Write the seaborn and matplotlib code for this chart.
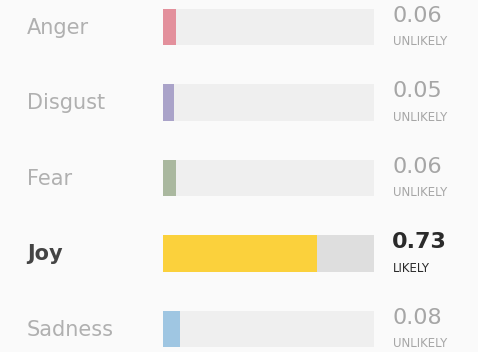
import matplotlib
matplotlib.use("Agg")
import matplotlib.pyplot as plt
from matplotlib.transforms import blended_transform_factory
import seaborn as sns
import pandas as pd

emotions = ["Anger", "Disgust", "Fear", "Joy", "Sadness"]
scores = [0.06, 0.05, 0.06, 0.73, 0.08]
likelihood = ["UNLIKELY", "UNLIKELY", "UNLIKELY", "LIKELY", "UNLIKELY"]
highlight = "Joy"

bar_colors = ["#e3909c", "#aaa3c9", "#aab89f", "#fbd13c", "#9fc6e2"]

sns.set_theme(style="white")
plt.rcParams["font.family"] = ["DejaVu Sans"]

df = pd.DataFrame({"emotion": emotions, "score": scores, "track": [1.0] * len(emotions)})

W, H = 478, 352
fig = plt.figure(figsize=(W / 100, H / 100), dpi=100)
fig.patch.set_facecolor("#fafafa")

left_px, right_px = 163, 374
ax = fig.add_axes([left_px / W, 0, (right_px - left_px) / W, 1])
ax.set_facecolor("none")

# background tracks
track_colors = ["#dedede" if e == highlight else "#efefef" for e in emotions]
sns.barplot(data=df, y="emotion", x="track", hue="emotion", palette=track_colors,
            order=emotions, hue_order=emotions, width=0.48, legend=False, ax=ax,
            saturation=1, linewidth=0)
# score bars
sns.barplot(data=df, y="emotion", x="score", hue="emotion", palette=bar_colors,
            order=emotions, hue_order=emotions, width=0.48, legend=False, ax=ax,
            saturation=1, linewidth=0)

row_px, first_px = 75.5, 27
ax.set_ylim((H - first_px) / row_px, -first_px / row_px)
ax.set_xlim(0, 1)
ax.axis("off")

lab_tr = blended_transform_factory(fig.transFigure, ax.transData)
for i, (e, s, lk) in enumerate(zip(emotions, scores, likelihood)):
    hi = e == highlight
    c_lab = "#444444" if hi else "#b0b0b0"
    c_val = "#2a2a2a" if hi else "#a6a6a6"
    ax.text(27 / W, i + 1 / row_px, e, transform=lab_tr, ha="left", va="center",
            fontsize=15, color=c_lab, fontweight="bold" if hi else "normal")
    ax.text(392 / W, i - 11 / row_px, f"{s:.2f}", transform=lab_tr, ha="left",
            va="center", fontsize=16, color=c_val,
            fontweight="bold" if hi else "normal")
    ax.text(393 / W, i + 15 / row_px, lk, transform=lab_tr, ha="left",
            va="center", fontsize=8.5, color=c_val)

fig.savefig("out.png", dpi=100, facecolor=fig.get_facecolor())
